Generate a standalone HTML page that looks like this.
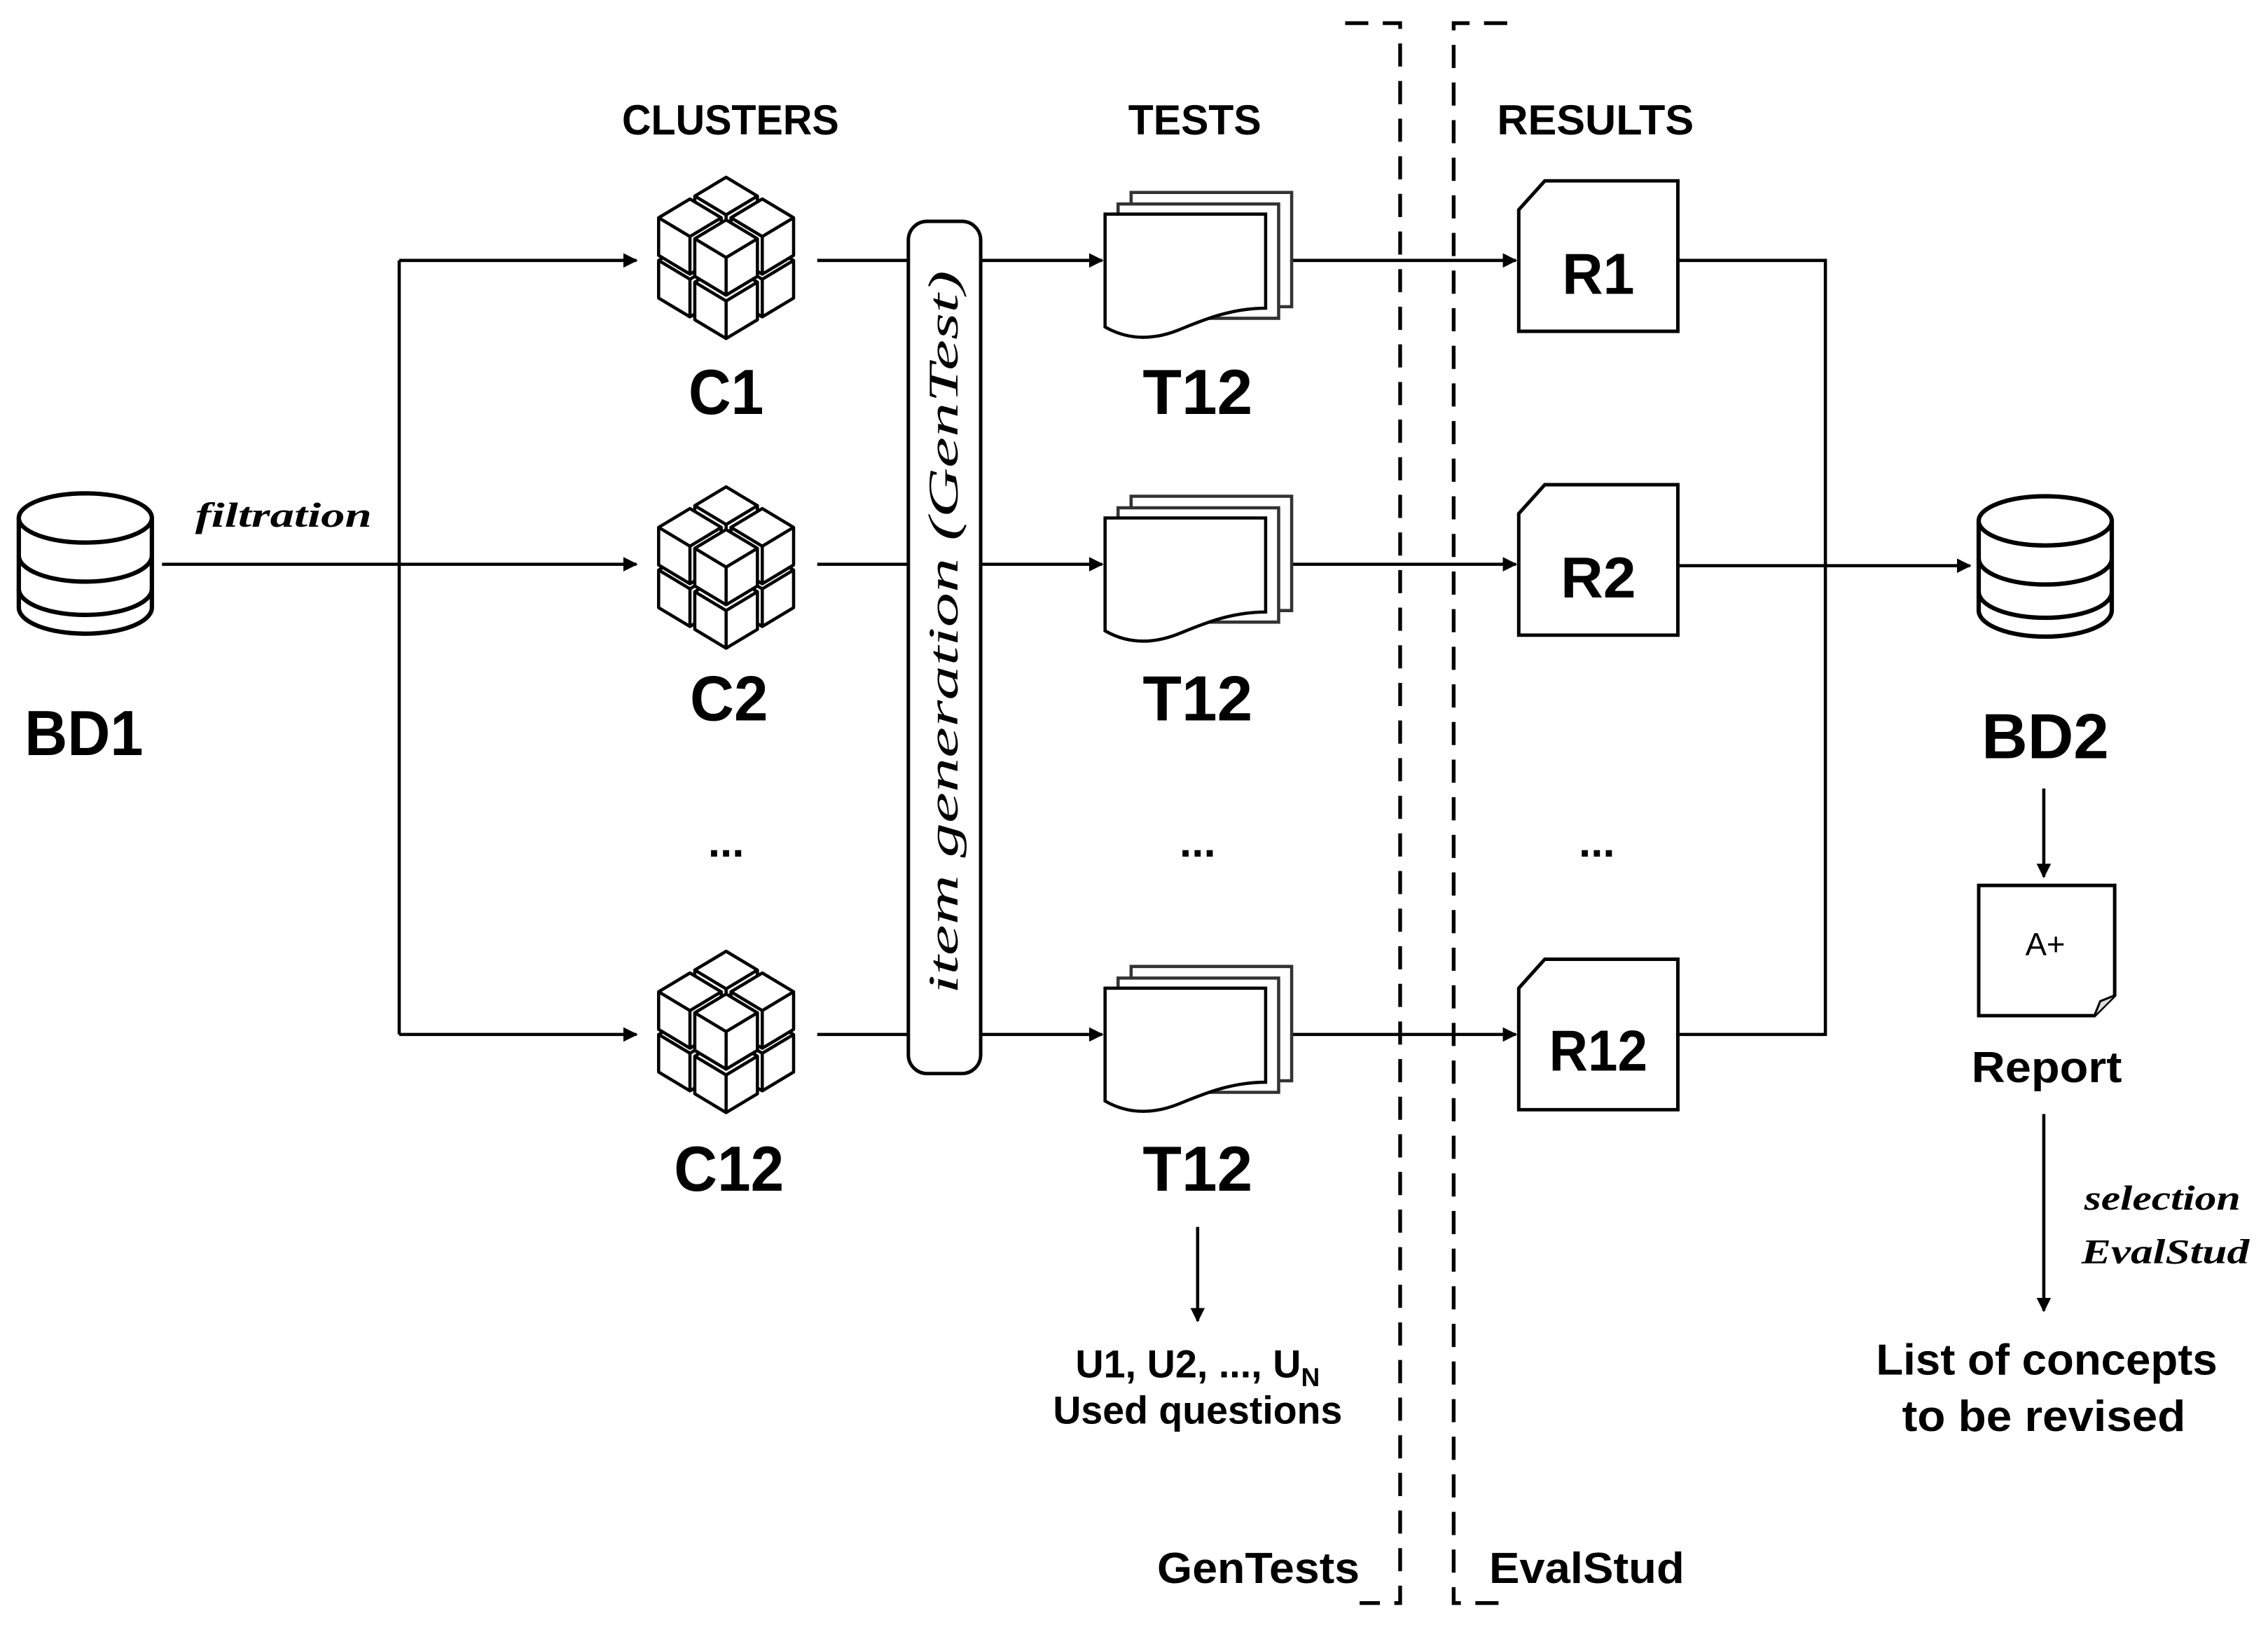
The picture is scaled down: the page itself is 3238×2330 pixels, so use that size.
<!DOCTYPE html>
<html><head><meta charset="utf-8"><style>
html,body{margin:0;padding:0;background:#fff;}
svg{display:block;}
.b{font-family:"Liberation Sans Narrow","Liberation Sans",sans-serif;font-weight:bold;fill:#000;}
.n{font-family:"Liberation Sans Narrow","Liberation Sans",sans-serif;fill:#000;}
.w{font-family:"Liberation Sans",sans-serif;font-weight:bold;fill:#000;}
.i{font-family:"Liberation Serif",serif;font-style:italic;font-weight:bold;fill:#000;}
</style></head><body>
<svg width="3238" height="2330" viewBox="0 0 1568 1128" preserveAspectRatio="none" xmlns="http://www.w3.org/2000/svg">
<defs>
<marker id="a" markerWidth="10" markerHeight="10" refX="9" refY="5" orient="auto" markerUnits="userSpaceOnUse">
<path d="M0,0 L10,5 L0,10 Z" fill="#000"/></marker>
<g id="sc" fill="#fff" stroke="#000" stroke-width="2.2" stroke-linejoin="round">
<path d="M0,-26 L21.65,-13 L21.65,13 L0,26 L-21.65,13 L-21.65,-13 Z"/>
<path d="M-21.65,-13 L0,0 L21.65,-13 M0,0 L0,26" fill="none"/>
</g>
<g id="cube">
<use href="#sc" x="0" y="0"/>
<use href="#sc" x="25" y="15"/>
<use href="#sc" x="-25" y="15"/>
<use href="#sc" x="0" y="-29.5"/>
<use href="#sc" x="0" y="30"/>
<use href="#sc" x="25" y="-14.5"/>
<use href="#sc" x="-25" y="-14.5"/>
<use href="#sc" x="0" y="0"/>
</g>
<g id="doc" fill="#fff" stroke="#000" stroke-width="2.2">
<path d="M782,133 H893 V212 H782 Z" stroke="#333"/>
<path d="M773,141 H884 V220 H773 Z" stroke="#333"/>
<path d="M764,148 H875 V213 C850,213 830,222 815,228 C795,236 778,234 764,226 Z"/>
</g>
<g id="rbox" fill="#fff" stroke="#000" stroke-width="2.4">
<path d="M1050,148 L1068,128 H1160 V232 H1050 Z"/>
</g>
<g id="db" fill="#fff" stroke="#000" stroke-width="3">
<path d="M0,18 V80 A46,18 0 0 0 92,80 V18"/>
<ellipse cx="46" cy="18" rx="46" ry="17"/>
<path d="M0,44 A46,18 0 0 0 92,44 M0,67 A46,18 0 0 0 92,67" fill="none"/>
</g>
</defs>

<text class="b" x="505" y="93" font-size="29" text-anchor="middle" textLength="150" lengthAdjust="spacingAndGlyphs">CLUSTERS</text>
<text class="b" x="826" y="93" font-size="29" text-anchor="middle" textLength="92" lengthAdjust="spacingAndGlyphs">TESTS</text>
<text class="b" x="1103" y="93" font-size="29" text-anchor="middle" textLength="136" lengthAdjust="spacingAndGlyphs">RESULTS</text>

<use href="#db" x="13" y="340"/>
<text class="b" x="58" y="522" font-size="44" text-anchor="middle" textLength="82" lengthAdjust="spacingAndGlyphs">BD1</text>
<text class="i" x="135" y="364" font-size="24" textLength="122" lengthAdjust="spacingAndGlyphs">filtration</text>

<g stroke="#000" stroke-width="2.2" fill="none">
<line x1="112" y1="390" x2="440" y2="390" marker-end="url(#a)"/>
<line x1="276" y1="180" x2="276" y2="715"/>
<line x1="276" y1="180" x2="440" y2="180" marker-end="url(#a)"/>
<line x1="276" y1="715" x2="440" y2="715" marker-end="url(#a)"/>
<line x1="565" y1="180" x2="628" y2="180"/>
<line x1="565" y1="390" x2="628" y2="390"/>
<line x1="565" y1="715" x2="628" y2="715"/>
<line x1="678" y1="180" x2="762" y2="180" marker-end="url(#a)"/>
<line x1="678" y1="390" x2="762" y2="390" marker-end="url(#a)"/>
<line x1="678" y1="715" x2="762" y2="715" marker-end="url(#a)"/>
<line x1="893" y1="180" x2="1048" y2="180" marker-end="url(#a)"/>
<line x1="893" y1="390" x2="1048" y2="390" marker-end="url(#a)"/>
<line x1="893" y1="715" x2="1048" y2="715" marker-end="url(#a)"/>
<polyline points="1160,180 1262,180 1262,715 1160,715"/>
<line x1="1160" y1="391" x2="1362" y2="391" marker-end="url(#a)"/>
<line x1="1413" y1="545" x2="1413" y2="606" marker-end="url(#a)"/>
<line x1="1413" y1="770" x2="1413" y2="906" marker-end="url(#a)"/>
<line x1="828" y1="848" x2="828" y2="913" marker-end="url(#a)"/>
</g>

<use href="#cube" transform="translate(502,178)"/>
<use href="#cube" transform="translate(502,392)"/>
<use href="#cube" transform="translate(502,713)"/>
<text class="b" x="502" y="286" font-size="44" text-anchor="middle" textLength="52" lengthAdjust="spacingAndGlyphs">C1</text>
<text class="b" x="504" y="498" font-size="44" text-anchor="middle" textLength="54" lengthAdjust="spacingAndGlyphs">C2</text>
<text class="b" x="504" y="823" font-size="44" text-anchor="middle" textLength="76" lengthAdjust="spacingAndGlyphs">C12</text>
<text class="b" x="502" y="592" font-size="30" text-anchor="middle">...</text>

<rect x="628" y="153" width="50" height="589" rx="13" fill="#fff" stroke="#000" stroke-width="2.4"/>
<text transform="translate(662,437) rotate(-90)" font-family="Liberation Serif, serif" font-style="italic" font-size="29" text-anchor="middle" textLength="500" lengthAdjust="spacingAndGlyphs">item generation (GenTest)</text>

<use href="#doc"/>
<use href="#doc" y="210"/>
<use href="#doc" y="535"/>
<text class="b" x="828" y="286" font-size="44" text-anchor="middle" textLength="76" lengthAdjust="spacingAndGlyphs">T12</text>
<text class="b" x="828" y="498" font-size="44" text-anchor="middle" textLength="76" lengthAdjust="spacingAndGlyphs">T12</text>
<text class="b" x="828" y="823" font-size="44" text-anchor="middle" textLength="76" lengthAdjust="spacingAndGlyphs">T12</text>
<text class="b" x="828" y="592" font-size="30" text-anchor="middle">...</text>
<text class="n" x="828" y="952" font-size="27" text-anchor="middle" font-weight="bold">U1, U2, ..., U<tspan font-size="18" dy="6">N</tspan></text>
<text class="n" x="828" y="984" font-size="27" text-anchor="middle" font-weight="bold" textLength="200" lengthAdjust="spacingAndGlyphs">Used questions</text>

<g stroke="#000" stroke-width="2.6" fill="none" stroke-dasharray="16,10">
<polyline points="930,16 968,16 968,1108 940,1108"/>
<polyline points="1042,16 1005,16 1005,1108 1040,1108"/>
</g>
<text class="n" x="870" y="1094" font-size="30" text-anchor="middle" font-weight="bold" textLength="140" lengthAdjust="spacingAndGlyphs">GenTests</text>
<text class="n" x="1097" y="1094" font-size="30" text-anchor="middle" font-weight="bold" textLength="135" lengthAdjust="spacingAndGlyphs">EvalStud</text>

<use href="#rbox" y="-3"/>
<use href="#rbox" y="207"/>
<use href="#rbox" y="535"/>
<text class="b" x="1105" y="203" font-size="40" text-anchor="middle" textLength="50" lengthAdjust="spacingAndGlyphs">R1</text>
<text class="b" x="1105" y="413" font-size="40" text-anchor="middle" textLength="52" lengthAdjust="spacingAndGlyphs">R2</text>
<text class="b" x="1105" y="740" font-size="40" text-anchor="middle" textLength="68" lengthAdjust="spacingAndGlyphs">R12</text>
<text class="b" x="1104" y="592" font-size="30" text-anchor="middle">...</text>

<use href="#db" x="1368" y="342"/>
<text class="b" x="1414" y="524" font-size="44" text-anchor="middle" textLength="88" lengthAdjust="spacingAndGlyphs">BD2</text>

<path d="M1368,612 H1462 V688 L1448,702 H1368 Z" fill="#fff" stroke="#000" stroke-width="2.4"/>
<path d="M1448,702 L1452,692 L1462,688" fill="#ddd" stroke="#000" stroke-width="1.5"/>
<text class="w" x="1414" y="660" font-size="22" text-anchor="middle" style="font-weight:normal">A+</text>
<text class="w" x="1415" y="748" font-size="30" text-anchor="middle" textLength="104" lengthAdjust="spacingAndGlyphs">Report</text>
<text class="i" x="1495" y="836" font-size="24" text-anchor="middle" textLength="108" lengthAdjust="spacingAndGlyphs">selection</text>
<text class="i" x="1497" y="873" font-size="24" text-anchor="middle" textLength="116" lengthAdjust="spacingAndGlyphs">EvalStud</text>
<text class="w" x="1415" y="950" font-size="30" text-anchor="middle" textLength="236" lengthAdjust="spacingAndGlyphs">List of concepts</text>
<text class="w" x="1413" y="989" font-size="30" text-anchor="middle" textLength="196" lengthAdjust="spacingAndGlyphs">to be revised</text>
</svg>
</body></html>
